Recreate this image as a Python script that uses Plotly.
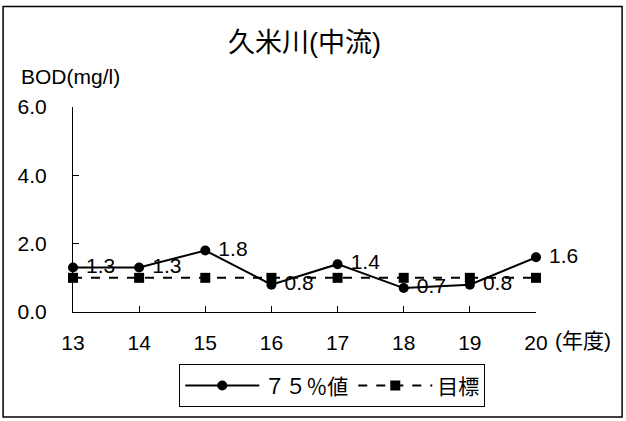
import plotly.graph_objects as go

years = ["13", "14", "15", "16", "17", "18", "19", "20"]
bod75 = [1.3, 1.3, 1.8, 0.8, 1.4, 0.7, 0.8, 1.6]
target = [1.0, 1.0, 1.0, 1.0, 1.0, 1.0, 1.0, 1.0]
yticks = [0.0, 2.0, 4.0, 6.0]

FONT = "Liberation Sans, Arial, Noto Sans CJK JP"
xs = list(range(len(years)))

fig = go.Figure()
fig.add_trace(go.Scatter(
    x=xs, y=bod75, name="７５％値", mode="lines+markers+text",
    line=dict(color="black", width=2),
    marker=dict(symbol="circle", size=10, color="black"),
    text=[f" {v:.1f}" for v in bod75], textposition="middle right",
    textfont=dict(size=21, color="black"), cliponaxis=False,
))
fig.add_trace(go.Scatter(
    x=xs, y=target, name="目標", mode="lines+markers",
    line=dict(color="black", width=2, dash="dash"),
    marker=dict(symbol="square", size=10, color="black"),
    cliponaxis=False,
))

fig.update_layout(
    width=626, height=421,
    margin=dict(l=73, r=90, t=107, b=109),
    paper_bgcolor="white", plot_bgcolor="white",
    font=dict(family=FONT, size=21, color="black"),
    title=dict(text="久米川(中流)", x=0.5, xref="paper", xanchor="center",
               y=0.898, yanchor="middle", font=dict(size=27, color="black")),
    showlegend=True,
    legend=dict(orientation="h", x=0.56, y=-0.255, xanchor="center", yanchor="top",
                bordercolor="black", borderwidth=1, bgcolor="white",
                font=dict(size=21), itemwidth=74, traceorder="normal",
                tracegroupgap=0),
    xaxis=dict(range=[0, 7], tickvals=xs, ticktext=years, showgrid=False,
               zeroline=False, showline=True, linecolor="black", linewidth=1,
               ticks="inside", ticklen=6, tickcolor="black",
               ticklabelstandoff=12, tickfont=dict(size=21)),
    yaxis=dict(range=[0, 6], tickvals=yticks, ticktext=[f"{v:.1f}" for v in yticks],
               showgrid=False, zeroline=False, showline=True, linecolor="black",
               linewidth=1, ticks="inside", ticklen=6, tickcolor="black",
               ticklabelstandoff=21, tickfont=dict(size=21)),
    shapes=[dict(type="rect", xref="paper", yref="paper", x0=-0.151, x1=1.186,
                 y0=-0.512, y1=1.49, line=dict(color="black", width=1.5))],
    annotations=[
        dict(text="BOD(mg/l)", xref="paper", yref="paper", x=-0.117, y=1.151,
             xanchor="left", yanchor="middle", showarrow=False,
             font=dict(size=21)),
        dict(text="(年度)", xref="paper", yref="paper", x=1.037, y=-0.137,
             xanchor="left", yanchor="middle", showarrow=False,
             font=dict(size=21)),
    ],
)

fig.write_html("out.html", config={"displayModeBar": False},
               post_script="document.body.style.margin='0';")
